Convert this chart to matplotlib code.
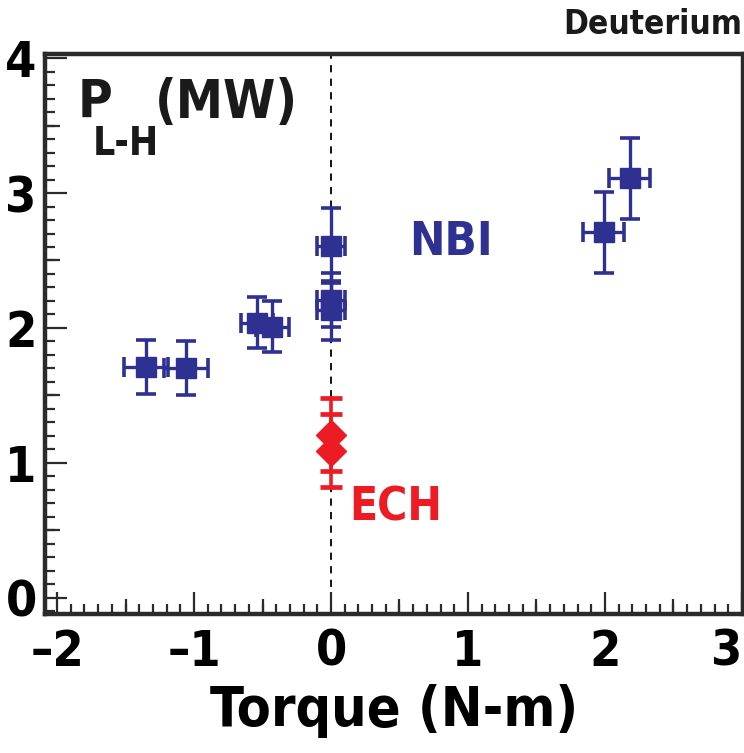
import matplotlib
matplotlib.use("Agg")
import matplotlib.pyplot as plt
from matplotlib.ticker import MultipleLocator, NullFormatter
import matplotlib.font_manager as fm

# NBI data (torque in N-m, threshold power in MW)
nbi_torque = [-1.35, -1.06, -0.54, -0.43, 0.0, 0.0, 0.0, 1.99, 2.18]
nbi_power = [1.71, 1.70, 2.04, 2.01, 2.61, 2.21, 2.13, 2.71, 3.11]
nbi_torque_err = [0.16, 0.16, 0.12, 0.12, 0.10, 0.10, 0.10, 0.15, 0.15]
nbi_power_err = [0.20, 0.20, 0.19, 0.19, 0.28, 0.20, 0.22, 0.30, 0.30]

# ECH data
ech_torque = [0.0, 0.0]
ech_power = [1.21, 1.09]
ech_power_err = [0.27, 0.27]

x_ticks = [-2, -1, 0, 1, 2, 3]
x_labels = ["\u20132", "\u20131", "0", "1", "2", "3"]
y_ticks = [0, 1, 2, 3, 4]

BLUE = "#2e3192"
RED = "#ed1c24"
FRAME = "#2b2b2b"
INK = "#1a1a1a"


def narrow_bold():
    # prefer a narrow/condensed bold face, like the Helvetica Condensed of the original
    wanted = ["LiberationSansNarrow-Bold", "DejaVuSansCondensed-Bold",
              "RobotoCondensed-Bold", "OpenSansCondensed-Bold", "Roboto-Bold",
              "LiberationSans-Bold"]
    files = [f.fname for f in fm.fontManager.ttflist]
    for w in wanted:
        for path in files:
            if path.split("/")[-1].startswith(w + "."):
                return fm.FontProperties(fname=path)
    return fm.FontProperties(family="DejaVu Sans", weight="bold", stretch="condensed")


FONT = narrow_bold()


def font(size):
    fp = FONT.copy()
    fp.set_size(size)
    return fp


fig = plt.figure(figsize=(7.44, 7.53), dpi=100)
ax = fig.add_axes([0.0605, 0.1846, 0.938, 0.7437])

ax.axvline(0, color="black", lw=1.3, ls=(0, (4, 3.5)), zorder=1)

ax.errorbar(nbi_torque, nbi_power, xerr=nbi_torque_err, yerr=nbi_power_err,
            fmt="s", color=BLUE, ms=14, elinewidth=2.4, capsize=7, capthick=2.6,
            zorder=3)
ax.errorbar(ech_torque, ech_power, yerr=ech_power_err,
            fmt="D", color=RED, ms=15, elinewidth=2.6, capsize=8, capthick=3.4,
            zorder=4)

ax.set_xlim(-2.088, 3.007)
ax.set_ylim(-0.119, 4.03)
ax.set_xticks(x_ticks)
ax.set_yticks(y_ticks)
ax.set_xticklabels(x_labels)
ax.xaxis.set_minor_locator(MultipleLocator(0.1))
ax.yaxis.set_minor_locator(MultipleLocator(0.1))
ax.tick_params(which="major", direction="in", length=16, width=1.6, color=FRAME,
               pad=10, top=False, right=False)
ax.tick_params(which="minor", direction="in", length=7, width=1.6, color=FRAME,
               top=False, right=False)
ax.tick_params(axis="y", pad=6)
for lab in ax.get_xticklabels() + ax.get_yticklabels():
    lab.set_fontproperties(font(36))
ax.get_xticklabels()[-1].set_horizontalalignment("right")

# medium ticks at the half units
for axis, loc in (("x", "bottom"), ("y", "left")):
    sec = ax.secondary_xaxis(loc) if axis == "x" else ax.secondary_yaxis(loc)
    vals = [v + 0.5 for v in (x_ticks if axis == "x" else y_ticks)[:-1]]
    if axis == "x":
        sec.set_xticks(vals)
        sec.xaxis.set_major_formatter(NullFormatter())
    else:
        sec.set_yticks(vals)
        sec.yaxis.set_major_formatter(NullFormatter())
    sec.tick_params(direction="in", length=11, width=1.6, color=FRAME)
    for s in sec.spines.values():
        s.set_visible(False)

for s in ax.spines.values():
    s.set_linewidth(3.2)
    s.set_color(FRAME)

ax.set_xlabel("Torque (N-m)", fontproperties=font(40), labelpad=6)

ax.text(0.047, 0.886, "P", transform=ax.transAxes, fontproperties=font(38),
        color=INK)
ax.text(0.068, 0.820, "L-H", transform=ax.transAxes, fontproperties=font(28),
        color=INK)
ax.text(0.158, 0.886, "(MW)", transform=ax.transAxes, fontproperties=font(38),
        color=INK)
ax.text(0.876, 2.63, "NBI", color=BLUE, fontproperties=font(34),
        ha="center", va="center")
ax.text(0.47, 0.67, "ECH", color=RED, fontproperties=font(33),
        ha="center", va="center")
fig.text(0.998, 0.967, "Deuterium", ha="right", va="center",
         fontproperties=font(24), color=INK)

fig.savefig("out.png", dpi=100)
